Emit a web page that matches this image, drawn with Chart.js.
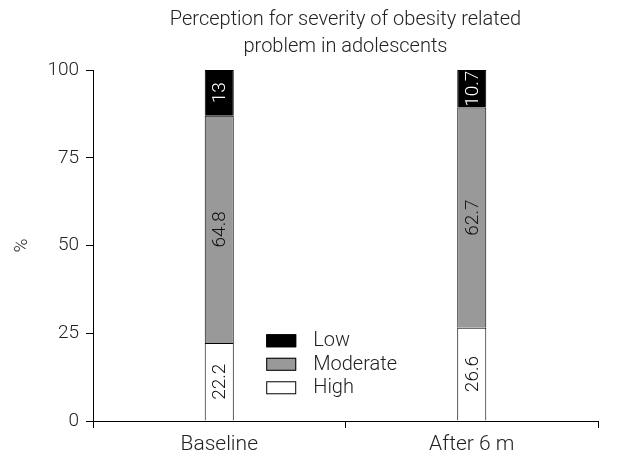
<!DOCTYPE html>
<html>
<head>
  <meta charset="UTF-8" />
  <title>Perception for severity of obesity related problem</title>
  <script src="https://cdn.jsdelivr.net/npm/chart.js"></script>
  <style>
    html, body { margin: 0; padding: 0; background: #fff; }
    #wrap { width: 622px; height: 454px; }
  </style>
</head>
<body>
  <div id="wrap"><canvas id="chart" width="622" height="454"></canvas></div>

  <script>
    // data
    const categories = ['Baseline', 'After 6 m'];
    const highValues = [22.2, 26.6];
    const moderateValues = [64.8, 62.7];
    const lowValues = [13, 10.7];
    const yTicks = [0, 25, 50, 75, 100];

    const FONT = 'Roboto, "Liberation Sans", Arial, sans-serif';
    const INK = '#222';

    // numbers written sideways inside each segment
    const segmentLabels = {
      id: 'segmentLabels',
      afterDatasetsDraw(chart) {
        const ctx = chart.ctx;
        chart.data.datasets.forEach((ds, i) => {
          const meta = chart.getDatasetMeta(i);
          meta.data.forEach((bar, j) => {
            const y = (bar.y + bar.base) / 2;
            ctx.save();
            ctx.translate(bar.x, y);
            ctx.rotate(-Math.PI / 2);
            ctx.font = '300 19px ' + FONT;
            ctx.fillStyle = ds.labelColor;
            ctx.textAlign = 'center';
            ctx.textBaseline = 'middle';
            ctx.fillText(String(ds.data[j]), 0, 1);
            ctx.restore();
          });
        });
      }
    };

    // legend box sits inside the plot, Low on top
    const boxLegend = {
      id: 'boxLegend',
      afterDraw(chart) {
        const ctx = chart.ctx;
        const area = chart.chartArea;
        const x0 = area.left + (area.right - area.left) * 0.343;
        const y0 = area.top + (area.bottom - area.top) * 0.77;
        const items = chart.data.datasets.slice().reverse();
        items.forEach((ds, k) => {
          const y = y0 + k * 23.5;
          ctx.fillStyle = ds.backgroundColor;
          ctx.fillRect(x0, y - 6, 30, 13);
          ctx.strokeStyle = '#000';
          ctx.lineWidth = 1;
          ctx.strokeRect(x0 + 0.5, y - 5.5, 29, 12);
          ctx.fillStyle = INK;
          ctx.font = '300 20px ' + FONT;
          ctx.textAlign = 'left';
          ctx.textBaseline = 'middle';
          ctx.fillText(ds.label, x0 + 47, y + 1);
        });
      }
    };

    new Chart(document.getElementById('chart'), {
      type: 'bar',
      data: {
        labels: categories,
        datasets: [
          { label: 'High', data: highValues, backgroundColor: '#ffffff', labelColor: '#111' },
          { label: 'Moderate', data: moderateValues, backgroundColor: '#999999', labelColor: '#111' },
          { label: 'Low', data: lowValues, backgroundColor: '#000000', labelColor: '#ffffff' }
        ]
      },
      options: {
        responsive: false,
        animation: false,
        layout: { padding: { left: 0, right: 24, top: 0, bottom: 0 } },
        datasets: {
          bar: {
            borderColor: '#000',
            borderWidth: 1,
            categoryPercentage: 1,
            barPercentage: 0.115
          }
        },
        plugins: {
          legend: { display: false },
          tooltip: { enabled: false },
          title: {
            display: true,
            fullSize: false,
            text: ['Perception for severity of obesity related', 'problem in adolescents'],
            color: INK,
            font: { family: FONT, size: 20, weight: '300', lineHeight: 1.35 },
            padding: { top: 6, bottom: 10 }
          }
        },
        scales: {
          x: {
            stacked: true,
            offset: true,
            grid: { offset: true, drawOnChartArea: false, drawTicks: true, tickLength: 7, color: '#000' },
            border: { display: true, color: '#000', width: 1 },
            ticks: { color: INK, font: { family: FONT, size: 21, weight: '300' }, padding: 4 },
            afterFit(scale) { scale.height = 33; }
          },
          y: {
            stacked: true,
            min: 0,
            max: 100,
            afterBuildTicks(scale) { scale.ticks = yTicks.map(v => ({ value: v })); },
            grid: { drawOnChartArea: false, drawTicks: true, tickLength: 7, color: '#000' },
            border: { display: true, color: '#000', width: 1 },
            ticks: { color: INK, font: { family: FONT, size: 19, weight: '300' }, padding: 7 },
            title: {
              display: true,
              text: '%',
              color: INK,
              font: { family: FONT, size: 19, weight: '300' },
              padding: { top: 11, bottom: 0 }
            },
            afterFit(scale) { scale.width = 93; }
          }
        }
      },
      plugins: [segmentLabels, boxLegend]
    });
  </script>
</body>
</html>
